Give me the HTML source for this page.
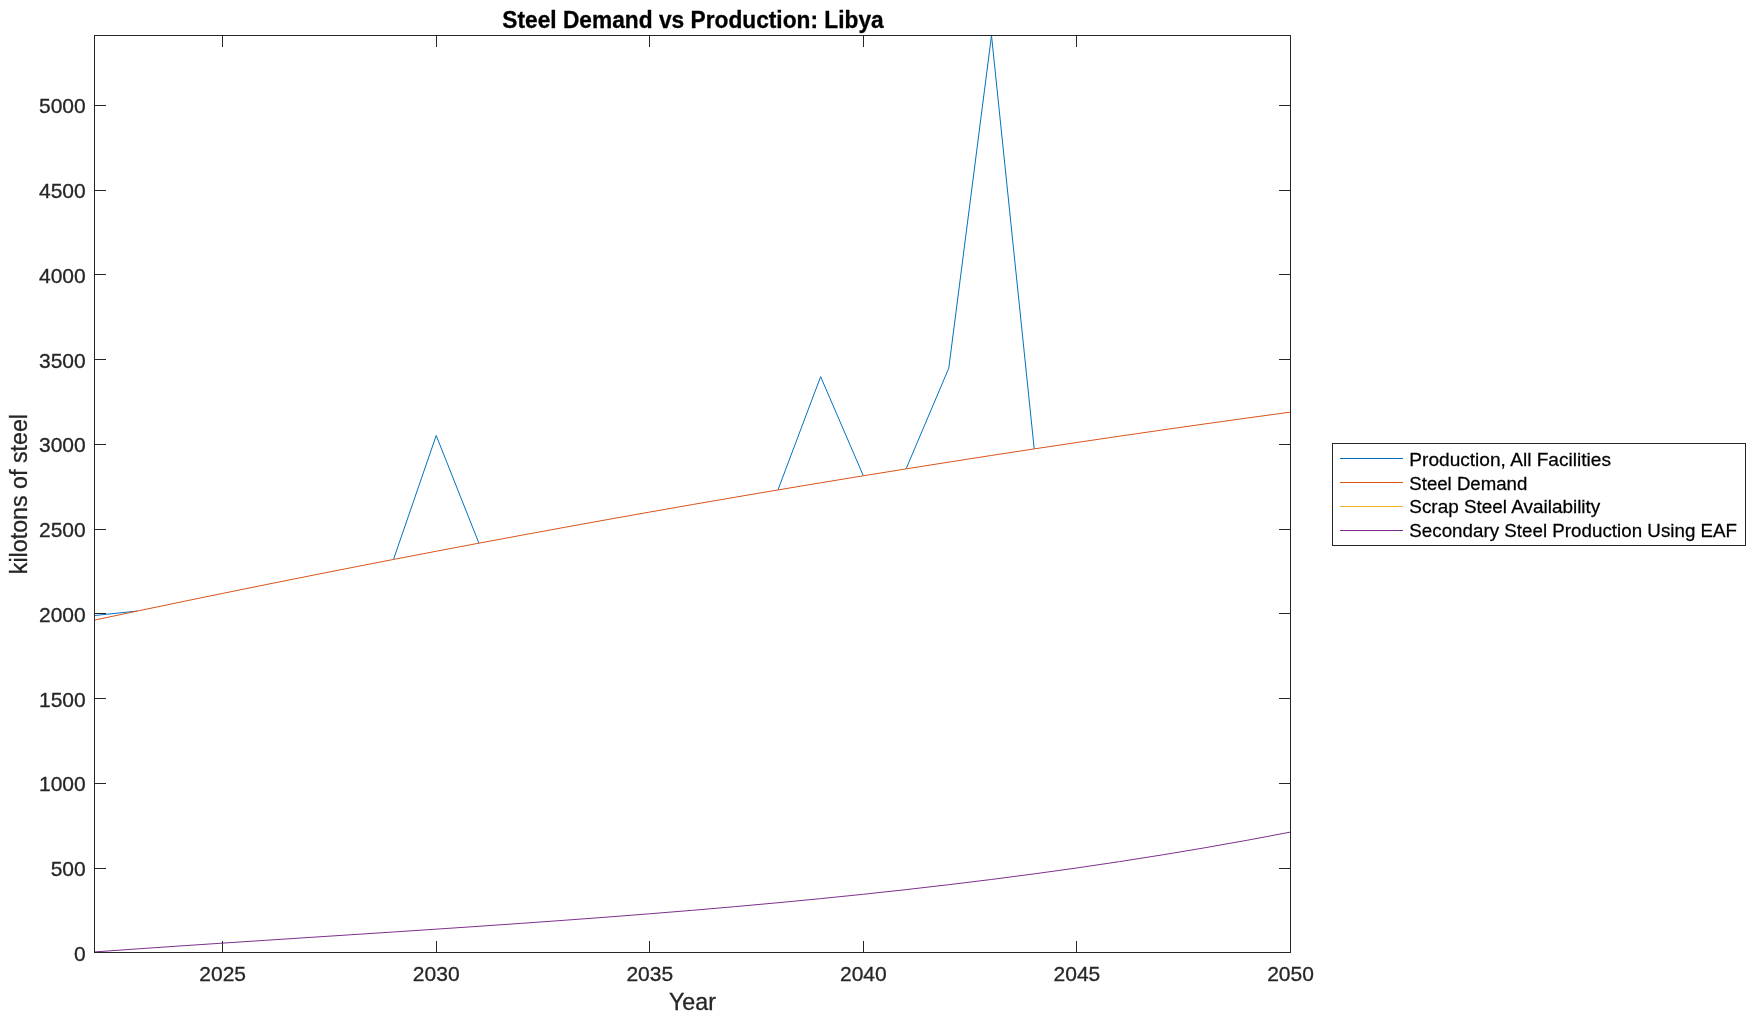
<!DOCTYPE html>
<html><head><meta charset="utf-8"><style>html,body{margin:0;padding:0;background:#fff;overflow:hidden}svg{display:block;will-change:transform}</style></head>
<body><svg width="1756" height="1021" viewBox="0 0 1756 1021">
<path d="M94.50,615.50 L137.21,611.08M393.50,559.44 L436.21,435.50 L478.93,543.18M777.93,489.94 L820.64,376.70 L863.36,475.79M906.07,468.89 L948.79,368.20 L991.50,35.50 L1034.21,448.90" fill="none" stroke="#0072BD" stroke-width="1.0" stroke-linejoin="miter"/>
<path d="M94.50,620.10 L137.21,611.08 L179.93,602.18 L222.64,593.40 L265.36,584.73 L308.07,576.19 L350.79,567.76 L393.50,559.44 L436.21,551.25 L478.93,543.18 L521.64,535.22 L564.36,527.38 L607.07,519.65 L649.79,512.05 L692.50,504.56 L735.21,497.19 L777.93,489.94 L820.64,482.81 L863.36,475.79 L906.07,468.89 L948.79,462.11 L991.50,455.45 L1034.21,448.90 L1076.93,442.47 L1119.64,436.16 L1162.36,429.97 L1205.07,423.90 L1247.79,417.94 L1290.50,412.10" fill="none" stroke="#D95319" stroke-width="1.0"/>
<path d="M94.50,951.93 L137.21,948.90 L179.93,945.98 L222.64,943.12 L265.36,940.32 L308.07,937.54 L350.79,934.77 L393.50,931.99 L436.21,929.17 L478.93,926.29 L521.64,923.34 L564.36,920.28 L607.07,917.10 L649.79,913.78 L692.50,910.30 L735.21,906.62 L777.93,902.74 L820.64,898.63 L863.36,894.27 L906.07,889.63 L948.79,884.70 L991.50,879.46 L1034.21,873.88 L1076.93,867.94 L1119.64,861.61 L1162.36,854.89 L1205.07,847.74 L1247.79,840.15 L1290.50,832.09" fill="none" stroke="#7E2F8E" stroke-width="1.0"/>
<rect x="94.5" y="35.5" width="1196.0" height="917.0" fill="none" stroke="#262626" stroke-width="1"/>
<path d="M222.5,952.5V941.0M222.5,35.5V47.0M436.5,952.5V941.0M436.5,35.5V47.0M649.5,952.5V941.0M649.5,35.5V47.0M863.5,952.5V941.0M863.5,35.5V47.0M1076.5,952.5V941.0M1076.5,35.5V47.0M1290.5,952.5V941.0M1290.5,35.5V47.0M94.5,952.5H106.0M1290.5,952.5H1279.0M94.5,868.5H106.0M1290.5,868.5H1279.0M94.5,783.5H106.0M1290.5,783.5H1279.0M94.5,698.5H106.0M1290.5,698.5H1279.0M94.5,613.5H106.0M1290.5,613.5H1279.0M94.5,529.5H106.0M1290.5,529.5H1279.0M94.5,444.5H106.0M1290.5,444.5H1279.0M94.5,359.5H106.0M1290.5,359.5H1279.0M94.5,274.5H106.0M1290.5,274.5H1279.0M94.5,190.5H106.0M1290.5,190.5H1279.0M94.5,105.5H106.0M1290.5,105.5H1279.0" fill="none" stroke="#262626" stroke-width="1"/>
<text transform="translate(222.64,980.60) scale(1.0000,1.0000)" font-family="Liberation Sans, sans-serif" font-size="21.0" font-weight="normal" fill="#262626" stroke="#262626" stroke-width="0.3" text-anchor="middle">2025</text>
<text transform="translate(436.21,980.60) scale(1.0000,1.0000)" font-family="Liberation Sans, sans-serif" font-size="21.0" font-weight="normal" fill="#262626" stroke="#262626" stroke-width="0.3" text-anchor="middle">2030</text>
<text transform="translate(649.79,980.60) scale(1.0000,1.0000)" font-family="Liberation Sans, sans-serif" font-size="21.0" font-weight="normal" fill="#262626" stroke="#262626" stroke-width="0.3" text-anchor="middle">2035</text>
<text transform="translate(863.36,980.60) scale(1.0000,1.0000)" font-family="Liberation Sans, sans-serif" font-size="21.0" font-weight="normal" fill="#262626" stroke="#262626" stroke-width="0.3" text-anchor="middle">2040</text>
<text transform="translate(1076.93,980.60) scale(1.0000,1.0000)" font-family="Liberation Sans, sans-serif" font-size="21.0" font-weight="normal" fill="#262626" stroke="#262626" stroke-width="0.3" text-anchor="middle">2045</text>
<text transform="translate(1290.50,980.60) scale(1.0000,1.0000)" font-family="Liberation Sans, sans-serif" font-size="21.0" font-weight="normal" fill="#262626" stroke="#262626" stroke-width="0.3" text-anchor="middle">2050</text>
<text transform="translate(85.70,960.55) scale(1.0000,1.0000)" font-family="Liberation Sans, sans-serif" font-size="21.0" font-weight="normal" fill="#262626" stroke="#262626" stroke-width="0.3" text-anchor="end">0</text>
<text transform="translate(85.70,875.55) scale(1.0000,1.0000)" font-family="Liberation Sans, sans-serif" font-size="21.0" font-weight="normal" fill="#262626" stroke="#262626" stroke-width="0.3" text-anchor="end">500</text>
<text transform="translate(85.70,790.55) scale(1.0000,1.0000)" font-family="Liberation Sans, sans-serif" font-size="21.0" font-weight="normal" fill="#262626" stroke="#262626" stroke-width="0.3" text-anchor="end">1000</text>
<text transform="translate(85.70,706.55) scale(1.0000,1.0000)" font-family="Liberation Sans, sans-serif" font-size="21.0" font-weight="normal" fill="#262626" stroke="#262626" stroke-width="0.3" text-anchor="end">1500</text>
<text transform="translate(85.70,621.55) scale(1.0000,1.0000)" font-family="Liberation Sans, sans-serif" font-size="21.0" font-weight="normal" fill="#262626" stroke="#262626" stroke-width="0.3" text-anchor="end">2000</text>
<text transform="translate(85.70,536.55) scale(1.0000,1.0000)" font-family="Liberation Sans, sans-serif" font-size="21.0" font-weight="normal" fill="#262626" stroke="#262626" stroke-width="0.3" text-anchor="end">2500</text>
<text transform="translate(85.70,451.55) scale(1.0000,1.0000)" font-family="Liberation Sans, sans-serif" font-size="21.0" font-weight="normal" fill="#262626" stroke="#262626" stroke-width="0.3" text-anchor="end">3000</text>
<text transform="translate(85.70,367.55) scale(1.0000,1.0000)" font-family="Liberation Sans, sans-serif" font-size="21.0" font-weight="normal" fill="#262626" stroke="#262626" stroke-width="0.3" text-anchor="end">3500</text>
<text transform="translate(85.70,282.55) scale(1.0000,1.0000)" font-family="Liberation Sans, sans-serif" font-size="21.0" font-weight="normal" fill="#262626" stroke="#262626" stroke-width="0.3" text-anchor="end">4000</text>
<text transform="translate(85.70,197.55) scale(1.0000,1.0000)" font-family="Liberation Sans, sans-serif" font-size="21.0" font-weight="normal" fill="#262626" stroke="#262626" stroke-width="0.3" text-anchor="end">4500</text>
<text transform="translate(85.70,112.55) scale(1.0000,1.0000)" font-family="Liberation Sans, sans-serif" font-size="21.0" font-weight="normal" fill="#262626" stroke="#262626" stroke-width="0.3" text-anchor="end">5000</text>
<text transform="translate(693.00,27.90) scale(0.9925,1.0300)" font-family="Liberation Sans, sans-serif" font-size="22.9" font-weight="bold" fill="#000" stroke="#000" stroke-width="0.3" text-anchor="middle">Steel Demand vs Production: Libya</text>
<text transform="translate(692.40,1009.70) scale(1.0150,1.0400)" font-family="Liberation Sans, sans-serif" font-size="22.9" font-weight="normal" fill="#262626" stroke="#262626" stroke-width="0.3" text-anchor="middle">Year</text>
<text transform="translate(27.00,494.10) rotate(-90) scale(1.0150,1.0300)" font-family="Liberation Sans, sans-serif" font-size="22.9" font-weight="normal" fill="#262626" stroke="#262626" stroke-width="0.3" text-anchor="middle">kilotons of steel</text>
<rect x="1332.5" y="443.5" width="413" height="102" fill="#fff" stroke="#262626" stroke-width="1"/>
<path d="M1340,458.5H1403" stroke="#0072BD" stroke-width="1.0"/>
<text transform="translate(1409.30,465.80) scale(1.0220,1.0200)" font-family="Liberation Sans, sans-serif" font-size="18.7" font-weight="normal" fill="#000" stroke="#000" stroke-width="0.25" text-anchor="start">Production, All Facilities</text>
<path d="M1340,482.5H1403" stroke="#D95319" stroke-width="1.0"/>
<text transform="translate(1409.30,489.57) scale(0.9966,1.0200)" font-family="Liberation Sans, sans-serif" font-size="18.7" font-weight="normal" fill="#000" stroke="#000" stroke-width="0.25" text-anchor="start">Steel Demand</text>
<path d="M1340,506.5H1403" stroke="#EDB120" stroke-width="1.0"/>
<text transform="translate(1409.30,513.34) scale(1.0120,1.0200)" font-family="Liberation Sans, sans-serif" font-size="18.7" font-weight="normal" fill="#000" stroke="#000" stroke-width="0.25" text-anchor="start">Scrap Steel Availability</text>
<path d="M1340,530.5H1403" stroke="#7E2F8E" stroke-width="1.0"/>
<text transform="translate(1409.30,537.11) scale(1.0048,1.0200)" font-family="Liberation Sans, sans-serif" font-size="18.7" font-weight="normal" fill="#000" stroke="#000" stroke-width="0.25" text-anchor="start">Secondary Steel Production Using EAF</text>
</svg></body></html>
